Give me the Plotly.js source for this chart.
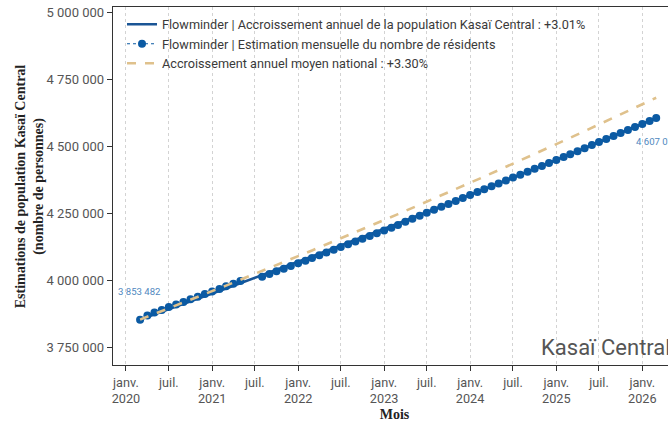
<!DOCTYPE html>
<html>
<head>
<meta charset="utf-8">
<script src="https://cdn.plot.ly/plotly-3.0.1.min.js"></script>
<style>
html,body{margin:0;padding:0;overflow:hidden;background:#fff;width:668px;height:422px;}
#chart{width:700px;height:422px;}
</style>
</head>
<body>
<div id="chart"></div>
<script>
// Monthly estimates (Flowminder), Mar 2020 – Mar 2026 (null = missing month)
const monthDates = [
 "2020-03-01","2020-04-01","2020-05-01","2020-06-01","2020-07-01","2020-08-01","2020-09-01","2020-10-01","2020-11-01","2020-12-01",
 "2021-01-01","2021-02-01","2021-03-01","2021-04-01","2021-05-01","2021-06-01","2021-07-01","2021-08-01","2021-09-01","2021-10-01","2021-11-01","2021-12-01",
 "2022-01-01","2022-02-01","2022-03-01","2022-04-01","2022-05-01","2022-06-01","2022-07-01","2022-08-01","2022-09-01","2022-10-01","2022-11-01","2022-12-01",
 "2023-01-01","2023-02-01","2023-03-01","2023-04-01","2023-05-01","2023-06-01","2023-07-01","2023-08-01","2023-09-01","2023-10-01","2023-11-01","2023-12-01",
 "2024-01-01","2024-02-01","2024-03-01","2024-04-01","2024-05-01","2024-06-01","2024-07-01","2024-08-01","2024-09-01","2024-10-01","2024-11-01","2024-12-01",
 "2025-01-01","2025-02-01","2025-03-01","2025-04-01","2025-05-01","2025-06-01","2025-07-01","2025-08-01","2025-09-01","2025-10-01","2025-11-01","2025-12-01",
 "2026-01-01","2026-02-01","2026-03-01"
];
const monthlyEstimates = [
 3853482,3869200,3879900,3889600,3900300,3910000,3919700,3929400,3939100,3948800,
 3958500,3968200,3977900,3987900,3997800,null,null,4013800,4023800,4033800,4043800,4053800,
 4063800,4073800,4083800,4094000,4104300,4114600,4124900,4135200,4145500,4155800,4166100,4176400,
 4186700,4197000,4207300,4219300,4230400,4241500,4252600,4263700,4274800,4285900,4297000,4308100,
 4319300,4329900,4340500,4351400,4362300,4373300,4384200,4395100,4406000,4417000,4427900,4438800,
 4449700,4460700,4471600,4482900,4494200,4505500,4516800,4528000,4539300,4550600,4561900,4573200,
 4584500,4595800,4607073
];
// Annual growth trend of Kasaï Central (+3.01%)
const trendDates = ["2020-03-01","2021-03-01","2022-03-01","2023-03-01","2024-03-01","2025-03-01","2026-03-01"];
const trendValues = [3853482,3969860,4089750,4213260,4340500,4471580,4607073];
// National average annual growth (+3.30%)
const nationalValues = [3853482,3980647,4112008,4247704,4387878,4532678,4682256];

const seriesNames = [
 "Flowminder | Accroissement annuel de la population Kasaï Central : +3.01%",
 "Flowminder | Estimation mensuelle du nombre de résidents",
 "Accroissement annuel moyen national : +3.30%"
];
const xTickVals = ["2020-01-01","2020-07-01","2021-01-01","2021-07-01","2022-01-01","2022-07-01","2023-01-01","2023-07-01","2024-01-01","2024-07-01","2025-01-01","2025-07-01","2026-01-01"];
const xTickText = ["janv.<br>2020","juil.","janv.<br>2021","juil.","janv.<br>2022","juil.","janv.<br>2023","juil.","janv.<br>2024","juil.","janv.<br>2025","juil.","janv.<br>2026"];
const yTickVals = [3750000,4000000,4250000,4500000,4750000,5000000];
const yTickText = ["3 750 000","4 000 000","4 250 000","4 500 000","4 750 000","5 000 000"];
const firstLabel = "3 853 482";
const lastLabel = "4 607 073";
const regionName = "Kasaï Central";
const yTitle = "<b>Estimations de population Kasaï Central<br>(nombre de personnes)</b>";
const xTitle = "<b>Mois</b>";

const traces = [
 {x: trendDates, y: trendValues, name: seriesNames[0], mode: "lines",
  line: {color: "#1a5595", width: 2.6}, hoverinfo: "skip"},
 {x: monthDates, y: monthlyEstimates, name: seriesNames[1], mode: "lines+markers",
  line: {color: "#0b5aa3", width: 1.2, dash: "dot"}, marker: {color: "#0b5aa3", size: 8},
  connectgaps: false},
 {x: trendDates, y: nationalValues, name: seriesNames[2], mode: "lines",
  line: {color: "#dfc18c", width: 2.6, dash: "dash"}}
];

const last = monthDates.length - 1;
const layout = {
 width: 700, height: 422,
 margin: {l: 113, r: 24, t: 7, b: 57},
 paper_bgcolor: "#fff", plot_bgcolor: "#fff",
 font: {family: "Roboto, sans-serif", color: "#4d4d4d", size: 13},
 showlegend: true,
 legend: {x: 0.016, y: 0.993, xanchor: "left", yanchor: "top", bgcolor: "rgba(0,0,0,0)",
  font: {family: "Roboto, sans-serif", size: 12.7, color: "#3a3a3a"}, tracegroupgap: 0},
 xaxis: {
  type: "date", range: ["2019-11-07","2026-05-24"],
  tickmode: "array", tickvals: xTickVals, ticktext: xTickText,
  ticks: "outside", ticklen: 5, tickcolor: "#333", tickwidth: 1,
  showgrid: true, gridcolor: "#d3d3d3", griddash: "dot", gridwidth: 1,
  showline: true, linecolor: "#333", linewidth: 1.3, mirror: true,
  zeroline: false,
  tickfont: {family: "Roboto, sans-serif", size: 12.7, color: "#555"},
  title: {text: xTitle, font: {family: "Liberation Serif, serif", size: 14, color: "#222"}, standoff: 6}
 },
 yaxis: {
  range: [3684000, 5021500],
  tickmode: "array", tickvals: yTickVals, ticktext: yTickText,
  ticks: "outside", ticklen: 5, tickcolor: "#333", tickwidth: 1,
  showgrid: false, zeroline: false,
  showline: true, linecolor: "#333", linewidth: 1.3, mirror: true,
  tickfont: {family: "Roboto, sans-serif", size: 13, color: "#555"}
 },
 annotations: [
  {x: -0.147, y: 0.5, xref: "paper", yref: "paper", text: yTitle, textangle: -90,
   showarrow: false, xanchor: "center", yanchor: "middle",
   font: {family: "Liberation Serif, serif", size: 14, color: "#222"}},
  {x: monthDates[0], y: monthlyEstimates[0], xref: "x", yref: "y", text: firstLabel,
   showarrow: false, xanchor: "center", yanchor: "middle", yshift: 28, xshift: -1,
   font: {family: "Roboto, sans-serif", size: 9.6, color: "#4f88c0"}},
  {x: monthDates[last], y: monthlyEstimates[last], xref: "x", yref: "y", text: lastLabel,
   showarrow: false, xanchor: "left", yanchor: "middle", xshift: -22, yshift: -24,
   font: {family: "Roboto, sans-serif", size: 9.6, color: "#4f88c0"}},
  {x: 0.757, y: 0.048, xref: "paper", yref: "paper", text: regionName, showarrow: false,
   xanchor: "left", yanchor: "middle",
   font: {family: "Roboto, sans-serif", size: 22, color: "#555"}}
 ]
};

Plotly.newPlot("chart", traces, layout, {displayModeBar: false, staticPlot: true});
</script>
</body>
</html>
